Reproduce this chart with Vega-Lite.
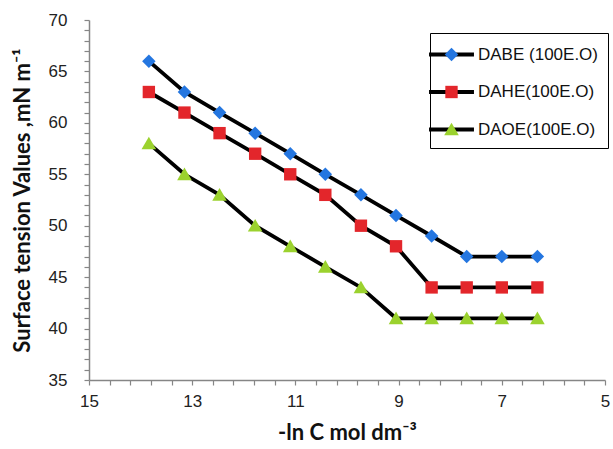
{
  "$schema": "https://vega.github.io/schema/vega-lite/v6.json",
  "width": 516,
  "height": 360,
  "autosize": {"type": "none"},
  "padding": {"left": 89, "top": 20, "right": 8, "bottom": 69},
  "background": "white",
  "config": {"view": {"stroke": null}, "font": "Liberation Sans"},
  "data": {
    "values": [
      {"x": 13.84, "y": 66, "series": "DABE (100E.O)"},
      {"x": 13.15, "y": 63, "series": "DABE (100E.O)"},
      {"x": 12.47, "y": 61, "series": "DABE (100E.O)"},
      {"x": 11.78, "y": 59, "series": "DABE (100E.O)"},
      {"x": 11.10, "y": 57, "series": "DABE (100E.O)"},
      {"x": 10.42, "y": 55, "series": "DABE (100E.O)"},
      {"x": 9.73, "y": 53, "series": "DABE (100E.O)"},
      {"x": 9.05, "y": 51, "series": "DABE (100E.O)"},
      {"x": 8.36, "y": 49, "series": "DABE (100E.O)"},
      {"x": 7.68, "y": 47, "series": "DABE (100E.O)"},
      {"x": 7.00, "y": 47, "series": "DABE (100E.O)"},
      {"x": 6.31, "y": 47, "series": "DABE (100E.O)"},
      {"x": 13.84, "y": 63, "series": "DAHE(100E.O)"},
      {"x": 13.15, "y": 61, "series": "DAHE(100E.O)"},
      {"x": 12.47, "y": 59, "series": "DAHE(100E.O)"},
      {"x": 11.78, "y": 57, "series": "DAHE(100E.O)"},
      {"x": 11.10, "y": 55, "series": "DAHE(100E.O)"},
      {"x": 10.42, "y": 53, "series": "DAHE(100E.O)"},
      {"x": 9.73, "y": 50, "series": "DAHE(100E.O)"},
      {"x": 9.05, "y": 48, "series": "DAHE(100E.O)"},
      {"x": 8.36, "y": 44, "series": "DAHE(100E.O)"},
      {"x": 7.68, "y": 44, "series": "DAHE(100E.O)"},
      {"x": 7.00, "y": 44, "series": "DAHE(100E.O)"},
      {"x": 6.31, "y": 44, "series": "DAHE(100E.O)"},
      {"x": 13.84, "y": 58, "series": "DAOE(100E.O)"},
      {"x": 13.15, "y": 55, "series": "DAOE(100E.O)"},
      {"x": 12.47, "y": 53, "series": "DAOE(100E.O)"},
      {"x": 11.78, "y": 50, "series": "DAOE(100E.O)"},
      {"x": 11.10, "y": 48, "series": "DAOE(100E.O)"},
      {"x": 10.42, "y": 46, "series": "DAOE(100E.O)"},
      {"x": 9.73, "y": 44, "series": "DAOE(100E.O)"},
      {"x": 9.05, "y": 41, "series": "DAOE(100E.O)"},
      {"x": 8.36, "y": 41, "series": "DAOE(100E.O)"},
      {"x": 7.68, "y": 41, "series": "DAOE(100E.O)"},
      {"x": 7.00, "y": 41, "series": "DAOE(100E.O)"},
      {"x": 6.31, "y": 41, "series": "DAOE(100E.O)"}
    ]
  },
  "encoding": {
    "x": {
      "field": "x",
      "type": "quantitative",
      "scale": {"domain": [5, 15], "reverse": true, "nice": false, "zero": false},
      "axis": {
        "values": [15, 14.6, 14.2, 13.8, 13.4, 13, 12.6, 12.2, 11.8, 11.4, 11, 10.6, 10.2, 9.8, 9.4, 9, 8.6, 8.2, 7.8, 7.4, 7, 6.6, 6.2, 5.8, 5.4, 5],
        "labelExpr": "indexof([15,13,11,9,7,5], datum.value) >= 0 ? (datum.value + '') : ''",
        "grid": false,
        "domainColor": "#868686",
        "domainWidth": 1.5,
        "tickColor": "#868686",
        "tickSize": 5,
        "tickWidth": 1.2,
        "labelFont": "Liberation Sans",
        "labelFontSize": 17,
        "labelColor": "#222222",
        "labelPadding": 8,
        "labelFlush": false,
        "labelOverlap": false,
        "title": "-ln C mol dm⁻³",
        "titleFont": "Lato",
        "titleFontWeight": "bold",
        "titleFontSize": 22,
        "titleColor": "#111111",
        "titlePadding": 13
      }
    },
    "y": {
      "field": "y",
      "type": "quantitative",
      "scale": {"domain": [35, 70], "nice": false, "zero": false},
      "axis": {
        "values": [35, 36, 37, 38, 39, 40, 41, 42, 43, 44, 45, 46, 47, 48, 49, 50, 51, 52, 53, 54, 55, 56, 57, 58, 59, 60, 61, 62, 63, 64, 65, 66, 67, 68, 69, 70],
        "labelExpr": "datum.value % 5 == 0 ? datum.label : ''",
        "grid": false,
        "domainColor": "#868686",
        "domainWidth": 1.5,
        "tickColor": "#868686",
        "tickSize": 5,
        "tickWidth": 1.2,
        "labelFont": "Liberation Sans",
        "labelFontSize": 17,
        "labelColor": "#222222",
        "labelPadding": 17,
        "labelFlush": false,
        "labelOverlap": false,
        "title": "Surface tension Values ,mN m⁻¹",
        "titleFont": "Lato",
        "titleFontWeight": "bold",
        "titleFontSize": 22,
        "titleColor": "#111111",
        "titlePadding": 14
      }
    }
  },
  "layer": [
    {
      "mark": {"type": "line", "strokeWidth": 3.8},
      "encoding": {
        "stroke": {
          "field": "series",
          "type": "nominal",
          "scale": {
            "domain": ["DABE (100E.O)", "DAHE(100E.O)", "DAOE(100E.O)"],
            "range": ["#000000", "#000000", "#000000"]
          },
          "legend": {
            "title": null,
            "orient": "none",
            "legendX": 341,
            "legendY": 13,
            "zindex": 0,
            "padding": 10,
            "strokeColor": "#000000",
            "fillColor": "#ffffff",
            "cornerRadius": 0,
            "symbolType": "M-2.43,0H2.43",
            "symbolSize": 342,
            "symbolStrokeWidth": 4,
            "symbolStrokeColor": "#000000",
            "labelFont": "Liberation Sans",
            "labelFontSize": 17,
            "labelColor": "#111111",
            "labelOffset": 15,
            "rowPadding": 17.5
          }
        }
      }
    },
    {
      "mark": {"type": "point", "filled": true, "size": 506, "opacity": 1},
      "encoding": {
        "fill": {
          "field": "series",
          "type": "nominal",
          "scale": {"range": ["#2476e0", "#e3262b", "#9bd22e"]},
          "legend": {
            "title": null,
            "orient": "none",
            "legendX": 341,
            "legendY": 13,
            "zindex": 1,
            "padding": 10,
            "symbolSize": 506,
            "symbolStrokeWidth": 0,
            "symbolStrokeColor": "transparent",
            "symbolOpacity": 1,
            "labelFont": "Liberation Sans",
            "labelFontSize": 17,
            "labelOpacity": 0,
            "labelOffset": 15,
            "rowPadding": 17.5
          }
        },
        "shape": {
          "field": "series",
          "type": "nominal",
          "scale": {"range": ["M0,-0.6L0.6,0L0,0.6L-0.6,0Z", "M-0.55,-0.55H0.55V0.55H-0.55Z", "M0,-0.6L0.65,0.52H-0.65Z"]}
        }
      }
    }
  ]
}
